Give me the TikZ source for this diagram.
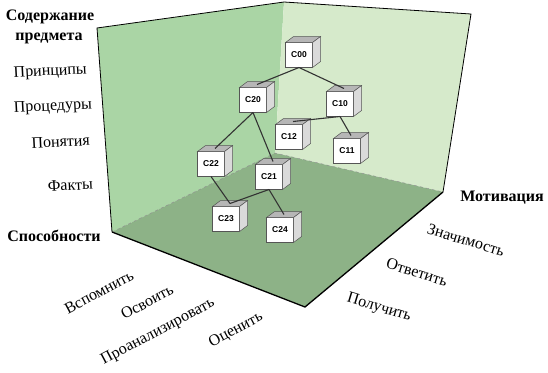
\documentclass[tikz,border=0pt]{standalone}
\usepackage{fontspec}
\setmainfont{Liberation Serif}
\newfontfamily\labelfont{Liberation Serif}
\newfontfamily\cubefont{Liberation Sans}
\usepackage{xcolor}
\usepackage{tikz}
\definecolor{sidewall}{RGB}{170,213,165}
\definecolor{backwall}{RGB}{214,234,203}
\definecolor{floorgreen}{RGB}{141,178,135}
\definecolor{cubetop}{RGB}{182,182,182}
\definecolor{cubeside}{RGB}{218,218,218}
\definecolor{cubeedge}{RGB}{85,85,85}

% one cube: front node, top and side faces, top point for links
\newcommand{\cubenode}[3]{%
  \node[cube] (#1) at (#2) {#3};
  \filldraw[cubeface, fill=cubetop] (#1.north west) -- ++(8,-6) -- ++(27,0) -- (#1.north east) -- cycle;
  \filldraw[cubeface, fill=cubeside] (#1.north east) -- ++(8,-6) -- ++(0,25) -- (#1.south east) -- cycle;
  \coordinate (#1t) at ([shift={(4,-3)}]#1.north);
}

\begin{document}
\begin{tikzpicture}[x=1pt, y=-1pt,
  lbl/.style={font=\labelfont\fontsize{16}{18}\selectfont, inner sep=0pt},
  head/.style={font=\labelfont\bfseries\fontsize{16}{18}\selectfont, inner sep=0pt},
  cube/.style={rectangle, draw=cubeedge, fill=white, line width=0.5pt,
    minimum width=27pt, minimum height=25pt, inner sep=0pt, outer sep=0pt,
    font=\cubefont\bfseries\fontsize{8.5}{9}\selectfont},
  cubeface/.style={draw=cubeedge, line width=0.5pt},
  link/.style={draw=black!80, line width=1.1pt},
  rim/.style={black, line width=0.8pt}
]
\useasboundingbox (0,0) rectangle (548,372);

% corners of the box
\coordinate (tl) at (97,28);
\coordinate (tb) at (284,2);
\coordinate (tr) at (471,14);
\coordinate (fl) at (112,232);
\coordinate (fb) at (275,153);
\coordinate (fr) at (443,192);
\coordinate (ff) at (305,307);

\fill[sidewall] (tl) -- (tb) -- (fb) -- (fl) -- cycle;
\fill[backwall] (tb) -- (tr) -- (fr) -- (fb) -- cycle;
\fill[floorgreen] (fl) -- (fb) -- (fr) -- (ff) -- cycle;
\draw[black!45, dashed, thin] (fl) -- (fb) -- (fr);
\draw[rim] (fl) -- (tl) -- (tb) -- (tr) -- (fr);
\draw[rim, line width=1.3pt] (fl) -- (ff) -- (fr);

\cubenode{c00}{299,55}{C00}
\cubenode{c20}{253,100}{C20}
\cubenode{c10}{340,104}{C10}
\cubenode{c12}{289,137}{C12}
\cubenode{c11}{347,151}{C11}
\cubenode{c22}{211,164}{C22}
\cubenode{c21}{269,177}{C21}
\cubenode{c23}{226,219}{C23}
\cubenode{c24}{280,230}{C24}

\draw[link] (c00.south) -- (c20t);
\draw[link] (c00.south) -- (c10t);
\draw[link] (c20.south) -- (c22t);
\draw[link] (c20.south) -- (c21t);
\draw[link] (c10.south) -- (c12t);
\draw[link] (c10.south) -- (c11t);
\draw[link] (c22.south) -- (c23t);
\draw[link] (c21.south) -- (c23t);
\draw[link] (c21.south) -- (c24t);

\node[head] (subj1) at (50,17) {Содержание};
\node[head] (subj2) at (49,38) {предмета};
\node[lbl, anchor=east, rotate=3] (princ) at (87,70) {Принципы};
\node[lbl, anchor=east, rotate=3] (proc) at (92,105) {Процедуры};
\node[lbl, anchor=east, rotate=3] (conc) at (90,140) {Понятия};
\node[lbl, anchor=east, rotate=3] (fact) at (93,184) {Факты};
\node[head] (abil) at (54,236) {Способности};
\node[head] (motiv) at (502,198) {Мотивация};

\node[lbl, rotate=28] (recall) at (99,292) {Вспомнить};
\node[lbl, rotate=28] (master) at (147,302) {Освоить};
\node[lbl, rotate=28] (analyse) at (158,332) {Проанализировать};
\node[lbl, rotate=28] (assess) at (236,330) {Оценить};
\node[lbl, rotate=-17] (value) at (466,240) {Значимость};
\node[lbl, rotate=-17] (respond) at (417,272) {Ответить};
\node[lbl, rotate=-17] (receive) at (379,308) {Получить};
\end{tikzpicture}
\end{document}
